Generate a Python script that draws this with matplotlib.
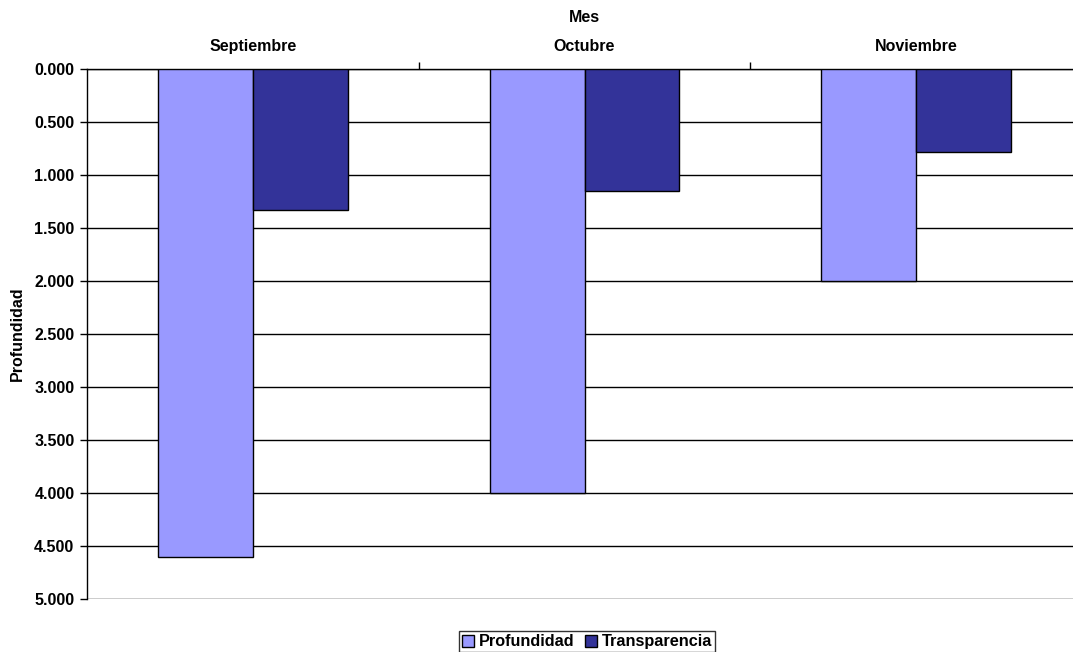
import numpy as np
import matplotlib.pyplot as plt
from matplotlib.ticker import FormatStrFormatter

# data
meses = ["Septiembre", "Octubre", "Noviembre"]
profundidad = [4.6, 4.0, 2.0]
transparencia = [1.33, 1.15, 0.78]

plt.rcParams["font.family"] = ["Liberation Sans", "DejaVu Sans"]
plt.rcParams["font.weight"] = "bold"
plt.rcParams["font.size"] = 11.5

fig = plt.figure(figsize=(10.73, 6.52), dpi=100)
# plot area runs slightly past the right edge, like the original
ax = fig.add_axes([87 / 1073, 1 - 599 / 652, (1082 - 87) / 1073, (599 - 69) / 652])

x = np.arange(len(meses))
w = 0.286
ax.bar(x - w / 2, profundidad, w, color="#9999FF", edgecolor="black", linewidth=1,
       label="Profundidad", zorder=3)
ax.bar(x + w / 2, transparencia, w, color="#333399", edgecolor="black", linewidth=1,
       label="Transparencia", zorder=3)

ax.set_xlim(-0.5, len(meses) - 0.5)
ax.set_ylim(5, 0)
ax.set_yticks(np.arange(0, 5.01, 0.5))
ax.yaxis.set_major_formatter(FormatStrFormatter("%.3f"))
ax.yaxis.grid(True, color="black", linewidth=1, zorder=0)
ax.tick_params(axis="y", direction="out", length=5, width=1, pad=4)

# category labels and separators on the top axis
ax.xaxis.tick_top()
ax.set_xticks([0.5, 1.5])
ax.set_xticklabels([])
ax.set_xticks(x, minor=True)
ax.set_xticklabels(meses, minor=True)
ax.tick_params(axis="x", which="major", direction="out", length=5, width=1)
ax.tick_params(axis="x", which="minor", length=0, pad=11)
ax.xaxis.set_label_position("top")
ax.set_xlabel("Mes", fontweight="bold", labelpad=12)
ax.set_ylabel("Profundidad", fontweight="bold", labelpad=7)

for s in ["right", "bottom"]:
    ax.spines[s].set_visible(False)
for s in ["left", "top"]:
    ax.spines[s].set_linewidth(1)

leg = ax.legend(loc="upper center", bbox_to_anchor=(500 / 995, -0.045), ncol=2,
                frameon=True, fancybox=False, edgecolor="black", handlelength=0.75,
                handleheight=0.75, handletextpad=0.3, columnspacing=0.6,
                borderpad=0.2, prop={"weight": "bold", "size": 11.7})
leg.get_frame().set_linewidth(1)

fig.savefig("out.png", dpi=100)
